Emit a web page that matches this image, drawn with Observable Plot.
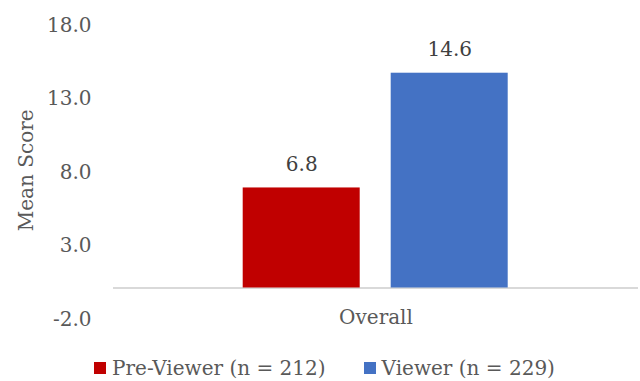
<!DOCTYPE html>
<html>
<head>
<meta charset="utf-8">
<script src="https://cdn.jsdelivr.net/npm/d3@7"></script>
<script src="https://cdn.jsdelivr.net/npm/@observablehq/plot@0.6"></script>
<style>
  body { margin: 0; background: #ffffff; font-family: "DejaVu Serif", serif; color: #595959; }
  #chart svg { display: block; }
  #legend { display: flex; justify-content: center; align-items: center; height: 36px; padding-top: 5px; padding-left: 9px; font-size: 20px; gap: 38px; }
  .item { display: flex; align-items: center; gap: 6px; white-space: nowrap; }
  .swatch { width: 12px; height: 12px; display: inline-block; }
</style>
</head>
<body>
<div id="chart"></div>
<div id="legend"></div>
<script>
// Mean score by respondent group
const categories = ["Overall"];
const groups = ["Pre-Viewer (n = 212)", "Viewer (n = 229)"];
const meanScores = [6.8, 14.6];
const groupColors = ["#C00000", "#4472C4"];
const yTicks = [-2, 3, 8, 13, 18];

const data = groups.map((g, i) => ({ category: categories[0], group: g, value: meanScores[i] }));
const fmt = v => v.toFixed(1);

const chart = Plot.plot({
  width: 640,
  height: 345,
  marginLeft: 112.3,
  marginRight: 2.3,
  marginTop: 22.7,
  marginBottom: 28.1,
  style: { fontFamily: "DejaVu Serif, serif", fontSize: "20px", color: "#595959", background: "#ffffff" },
  fx: { domain: categories, padding: 0, label: null },
  x: { domain: groups, paddingInner: 0.21, paddingOuter: 0.87, axis: null },
  y: { domain: [-2, 18] },
  color: { domain: groups, range: groupColors },
  marks: [
    Plot.axisY({
      ticks: yTicks, tickSize: 0, tickPadding: 22, tickFormat: fmt, dy: 2,
      label: "Mean Score", labelAnchor: "center", labelArrow: "none", labelOffset: 95
    }),
    Plot.axisFx({ anchor: "bottom", tickSize: 0, tickPadding: 0, dy: -8, label: null }),
    Plot.ruleY([0], { stroke: "#d9d9d9", strokeWidth: 2 }),
    Plot.barY(data, { fx: "category", x: "group", y: "value", fill: "group" }),
    Plot.text(data, {
      fx: "category", x: "group", y: "value", text: d => fmt(d.value),
      lineAnchor: "bottom", dy: -17, fill: "#404040"
    })
  ]
});
document.getElementById("chart").appendChild(chart);

// Legend below the chart
const legend = document.getElementById("legend");
groups.forEach((g, i) => {
  const item = document.createElement("span");
  item.className = "item";
  const sw = document.createElement("span");
  sw.className = "swatch";
  sw.style.background = groupColors[i];
  const label = document.createElement("span");
  label.textContent = g;
  item.append(sw, label);
  legend.append(item);
});
</script>
</body>
</html>
